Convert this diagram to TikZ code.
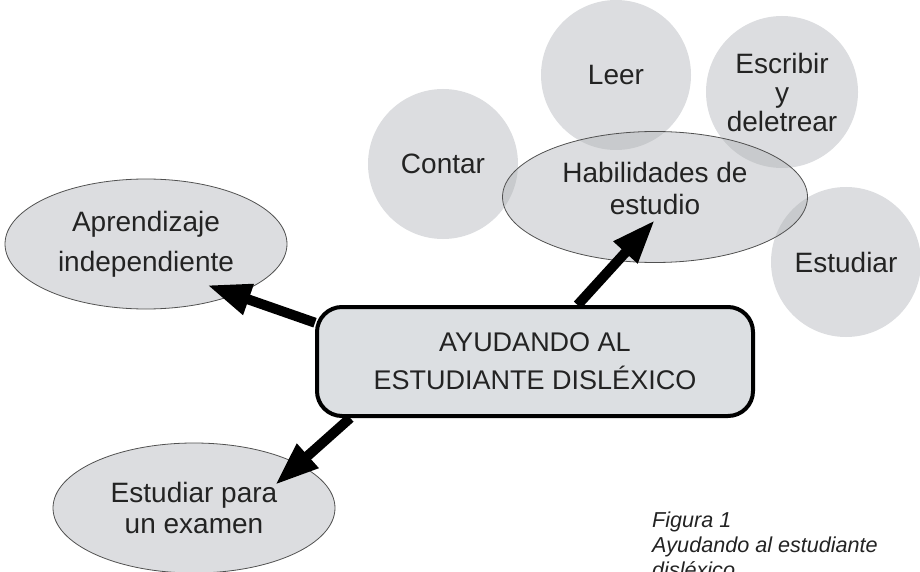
\documentclass[tikz,border=0pt]{standalone}
\usepackage{fontspec}
\setmainfont{Liberation Sans}
\usetikzlibrary{shapes.geometric,arrows.meta}
\definecolor{bubbleGray}{RGB}{174,177,182}
\definecolor{boxGray}{RGB}{220,223,226}
\definecolor{edgeGray}{RGB}{80,80,80}
\definecolor{inkGray}{RGB}{35,35,35}
\pgfdeclarelayer{front}
\pgfsetlayers{main,front}
\tikzset{
  skillCircle/.style={circle, fill=bubbleGray, fill opacity=0.43, text opacity=1,
    text=inkGray, minimum size=150pt, inner sep=0pt, align=center,
    font=\fontsize{28}{29}\selectfont},
  topicOval/.style={ellipse, draw=edgeGray, line width=0.8pt, fill=bubbleGray,
    fill opacity=0.43, text opacity=1, text=inkGray, inner sep=0pt, align=center,
    minimum width=282pt, minimum height=130pt, font=\fontsize{28}{32}\selectfont},
  mainBox/.style={rectangle, rounded corners=25pt, draw=black, line width=4pt,
    fill=boxGray, text=inkGray, minimum width=436pt, minimum height=109pt,
    align=center, font=\fontsize{27}{38}\selectfont},
  thickArrow/.style={line width=10pt, -{Triangle[length=44pt,width=30pt]}}
}
\begin{document}
\begin{tikzpicture}[x=1pt,y=-1pt]
  \useasboundingbox (0,0) rectangle (920,572);
  \clip (0,0) rectangle (920,572);
  % the small circles round the study skills
  \node[skillCircle] (contar) at (443,164) {Contar};
  \node[skillCircle] (leer) at (616,75) {Leer};
  \node[skillCircle, minimum size=152pt] (escribir) at (782,92) {Escribir\\y\\deletrear};
  \node[skillCircle] (estudiar) at (846,262) {Estudiar};
  % the ovals
  \node[topicOval, minimum width=305pt, minimum height=131pt,
    label={[align=center, text=inkGray, font=\fontsize{28}{32}\selectfont, yshift=9pt]center:Habilidades de\\estudio}]
    (habilidades) at (655,197) {};
  \node[topicOval, font=\fontsize{28}{40}\selectfont] (aprendizaje) at (146,244) {Aprendizaje\\independiente};
  \node[topicOval, font=\fontsize{28}{31}\selectfont] (examen) at (194,508) {Estudiar para\\un examen};
  \begin{pgfonlayer}{front}
    \node[mainBox] (ayudando) at (535,361.5) {AYUDANDO AL\\ESTUDIANTE DISLÉXICO};
  \end{pgfonlayer}
  \draw[thickArrow] (ayudando.170) -- ([xshift=61pt,yshift=-41pt]aprendizaje.center);
  \draw[thickArrow] (ayudando.53) -- ([yshift=-23pt]habilidades.center);
  \draw[thickArrow] (ayudando.197) -- ([xshift=81pt,yshift=23pt]examen.center);
  \node[anchor=base west, align=left, inner sep=0pt, text=inkGray,
    font=\fontsize{21.6}{25}\selectfont\itshape] (figura) at (652,577)
    {Figura 1\\Ayudando al estudiante\\disléxico};
\end{tikzpicture}
\end{document}
